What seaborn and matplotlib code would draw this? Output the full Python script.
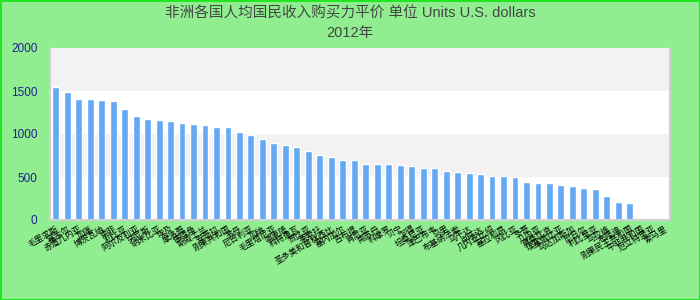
import numpy as np
import pandas as pd
import matplotlib
matplotlib.use("Agg")
import matplotlib.pyplot as plt
import seaborn as sns

title_line1 = "非洲各国人均国民收入购买力平价 单位 Units U.S. dollars"
title_line2 = "2012年"

countries = [
    "毛里求斯", "塞舌尔", "赤道几内亚", "加蓬", "博茨瓦纳", "南非", "利比亚",
    "阿尔及利亚", "突尼斯", "纳米比亚", "埃及", "摩洛哥", "佛得角", "斯威士兰",
    "安哥拉", "刚果共和国", "苏丹", "尼日利亚", "加纳", "毛里塔尼亚", "喀麦隆",
    "科特迪瓦", "赞比亚", "莱索托", "圣多美和普林西比", "塞内加尔", "吉布提",
    "肯尼亚", "南苏丹", "科摩罗", "贝宁", "乍得", "坦桑尼亚", "津巴布韦", "马里",
    "布基纳法索", "乌干达", "卢旺达", "几内亚比绍", "塞拉利昂", "冈比亚", "多哥",
    "几内亚", "莫桑比克", "埃塞俄比亚", "马达加斯加", "尼日尔", "利比里亚",
    "马拉维", "布隆迪", "刚果民主共和国", "中非共和国", "厄立特里亚", "索马里",
]

values = [
    1547, 1488, 1407, 1407, 1395, 1384, 1291, 1209, 1174, 1163, 1151, 1128,
    1116, 1105, 1081, 1081, 1023, 988, 942, 895, 872, 849, 802, 756, 733, 698,
    698, 651, 651, 651, 640, 628, 605, 605, 570, 558, 547, 535, 512, 512, 500,
    442, 430, 430, 407, 395, 372, 360, 279, 209, 198,
    np.nan, np.nan, np.nan,
]

y_ticks = [0, 500, 1000, 1500, 2000]

df = pd.DataFrame({"country": countries, "value": values})

sns.set_theme(style="white")
plt.rcParams["font.family"] = ["Noto Sans CJK SC", "DejaVu Sans"]

fig = plt.figure(figsize=(7, 3), dpi=100, facecolor="#90EE90",
                 edgecolor="#22E622", linewidth=2)
ax = fig.add_axes([50 / 700, 1 - 220 / 300, 620 / 700, 172 / 300])
ax.set_facecolor("white")

# alternating horizontal bands
for i in range(len(y_ticks) - 1):
    if i % 2 == 1:
        ax.axhspan(y_ticks[i], y_ticks[i + 1], color="#F2F2F2", zorder=0, lw=0)

sns.barplot(data=df, x="country", y="value", order=countries, color="#63A9F3",
            saturation=1, width=0.6, ax=ax, zorder=2)

ax.set_ylim(0, 2000)
ax.set_xlim(-0.5, len(countries) - 0.5)
ax.set_yticks(y_ticks)
ax.set_yticklabels([str(v) for v in y_ticks], color="#1F1F8F", fontsize=8.5,
                   family=["Liberation Sans", "DejaVu Sans"])
ax.set_xticks(range(len(countries)))
ax.set_xticklabels(countries, rotation=30, ha="right", rotation_mode="anchor",
                   fontsize=6, color="black")
ax.tick_params(axis="y", length=0, pad=9)
ax.tick_params(axis="x", length=0, pad=3)
ax.set_xlabel("")
ax.set_ylabel("")
for side in ["left", "right", "bottom", "top"]:
    ax.spines[side].set_visible(True)
    ax.spines[side].set_color("#D0D0D0")
    ax.spines[side].set_linewidth(1.5)
ax.spines["top"].set_visible(False)

title_family = ["Liberation Sans", "Noto Sans CJK SC", "DejaVu Sans"]
fig.text(0.5, 1 - 13 / 300, title_line1, ha="center", va="center",
         fontsize=10.5, color="#444444", family=title_family)
fig.text(0.5, 1 - 33 / 300, title_line2, ha="center", va="center",
         fontsize=10.5, color="#444444", family=title_family)

fig.savefig("out.png", dpi=100, facecolor=fig.get_facecolor(),
            edgecolor=fig.get_edgecolor())
